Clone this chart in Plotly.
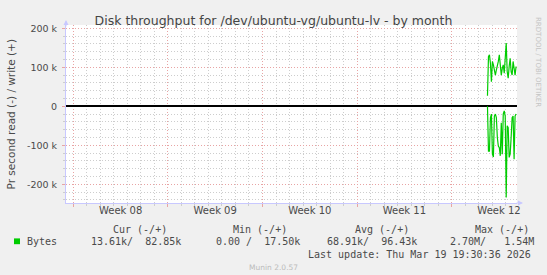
import plotly.graph_objects as go
import pandas as pd

# ---------------- data ----------------
weeks = ["Week 08", "Week 09", "Week 10", "Week 11", "Week 12"]
week_starts = pd.to_datetime(["2026-02-15", "2026-02-22", "2026-03-01", "2026-03-08", "2026-03-15"])
x_start = "2026-02-14 11:03"
x_end = "2026-03-19 19:55"

sample_start = "2026-03-17 15:30"
sample_step = "105min"
write_k = [27, 127, 132, 110, 63, 115, 106, 89, 80, 93, 102, 115, 132, 97, 80,
           97, 106, 85, 123, 162, 89, 72, 102, 123, 89, 80, 115, 93, 80, 102]
read_k = [0, 115, 115, 29, 20, 123, 130, 25, 20, 29, 80, 102, 106, 127, 42,
          123, 20, 12, 25, 234, 50, 55, 131, 123, 80, 29, 25, 136, 25, 20]

y_ticks = [-200000, -100000, 0, 100000, 200000]
y_ticktext = ["-200 k", "-100 k", "0", "100 k", "200 k"]

title = "Disk throughput for /dev/ubuntu-vg/ubuntu-lv - by month"
y_title = "Pr second read (-) / write (+)"
headers = ["Cur (-/+)", "Min (-/+)", "Avg (-/+)", "Max (-/+)"]
series_name = "Bytes"
values = ["13.61k/  82.85k", "0.00 /  17.50k", "68.91k/  96.43k", "2.70M/   1.54M"]
last_update = "Last update: Thu Mar 19 19:30:36 2026"
version = "Munin 2.0.57"
watermark = "RRDTOOL / TOBI OETIKER"

# ---------------- layout geometry (px) ----------------
W, H = 547, 275
L, R, T, B = 66, 517, 25, 203


def xp(px):
    return (px - L) / (R - L)


def yp(py):
    return (B - py) / (B - T)


def nb(s):
    return s.replace(" ", "\u00a0")


times = pd.date_range(sample_start, periods=len(write_k), freq=sample_step)
week_centers = week_starts + pd.Timedelta(hours=84)

GREEN = "#00CC00"
TXT = "#4a4a4a"
MONO = "DejaVu Sans Mono"
SANS = "DejaVu Sans"
MAJ = "#E8A4A4"
MIN = "#CDCDCD"
DASH = "1px,2px"

fig = go.Figure()
fig.add_trace(go.Scatter(x=times, y=[v * 1000 for v in write_k], mode="lines",
                         line=dict(color=GREEN, width=1.2), showlegend=False,
                         hoverinfo="skip"))
fig.add_trace(go.Scatter(x=times, y=[-v * 1000 for v in read_k], mode="lines",
                         line=dict(color=GREEN, width=1.2), showlegend=False,
                         hoverinfo="skip"))
# dummy trace for label axis
fig.add_trace(go.Scatter(x=week_centers, y=[None] * len(weeks), xaxis="x2",
                         showlegend=False, hoverinfo="skip"))

annotations = []
annotations.append(dict(text=y_title, x=xp(10), y=yp(114.5), xref="paper", yref="paper",
                        showarrow=False, textangle=-90, xanchor="center", yanchor="middle",
                        font=dict(family=SANS, size=10.5, color=TXT)))
annotations.append(dict(text=watermark, x=xp(538), y=yp(15), xref="paper", yref="paper",
                        showarrow=False, textangle=90, xanchor="center", yanchor="top",
                        font=dict(family=SANS, size=7, color="#C4C4C4")))
head_x = [111, 231, 353, 473]
for hx, h in zip(head_x, headers):
    annotations.append(dict(text=nb(h), x=xp(hx), y=yp(229.2), xref="paper", yref="paper",
                            showarrow=False, xanchor="left", yanchor="middle",
                            font=dict(family=MONO, size=10, color=TXT)))
annotations.append(dict(text=series_name, x=xp(25), y=yp(241.4), xref="paper", yref="paper",
                        showarrow=False, xanchor="left", yanchor="middle",
                        font=dict(family=MONO, size=10, color=TXT)))
val_x = [89, 213.6, 324.6, 448]
for vx, v in zip(val_x, values):
    annotations.append(dict(text=nb(v), x=xp(vx), y=yp(241.4), xref="paper", yref="paper",
                            showarrow=False, xanchor="left", yanchor="middle",
                            font=dict(family=MONO, size=10, color=TXT)))
annotations.append(dict(text=nb(last_update), x=xp(533), y=yp(254.3), xref="paper", yref="paper",
                        showarrow=False, xanchor="right", yanchor="middle",
                        font=dict(family=MONO, size=10, color=TXT)))
annotations.append(dict(text=version, x=xp(273), y=yp(267.6), xref="paper", yref="paper",
                        showarrow=False, xanchor="center", yanchor="middle",
                        font=dict(family=SANS, size=7.5, color="#BBBBBB")))
annotations.append(dict(text="", x=xp(523), y=yp(203), xref="paper", yref="paper",
                        ax=-8, ay=0, showarrow=True, arrowhead=2, arrowsize=1,
                        arrowwidth=1, arrowcolor="#C8C8FF"))
annotations.append(dict(text="", x=xp(66), y=yp(20), xref="paper", yref="paper",
                        ax=0, ay=8, showarrow=True, arrowhead=2, arrowsize=1,
                        arrowwidth=1, arrowcolor="#C8C8FF"))

shapes = [dict(type="rect", xref="paper", yref="paper", x0=xp(14), x1=xp(20),
               y0=yp(244.2), y1=yp(238.4), fillcolor=GREEN, line=dict(width=0))]

fig.update_layout(
    width=W, height=H,
    margin=dict(l=L, r=W - R, t=T, b=H - B, pad=0),
    paper_bgcolor="#F0F0F0", plot_bgcolor="#FFFFFF",
    title=dict(text=title, x=0.5, xref="container", xanchor="center",
               y=1 - 20.9 / H, yref="container", yanchor="middle",
               font=dict(family=SANS, size=12.5, color="#444444")),
    font=dict(family=SANS, color=TXT),
    xaxis=dict(type="date", range=[x_start, x_end], tickmode="array",
               tickvals=week_starts, showticklabels=False,
               showgrid=True, gridcolor=MAJ, griddash=DASH, gridwidth=1,
               ticks="outside", ticklen=3, tickcolor=MAJ,
               showline=True, linecolor="#C8C8FF", linewidth=1, zeroline=False,
               minor=dict(tickmode="linear", tick0="2026-02-15", dtick=86400000,
                          showgrid=True, gridcolor=MIN, griddash=DASH,
                          ticks="outside", ticklen=2, tickcolor=MIN)),
    xaxis2=dict(type="date", overlaying="x", matches="x", anchor="y", side="bottom",
                tickmode="array", tickvals=week_centers, ticktext=weeks,
                showgrid=False, showline=False, ticks="", zeroline=False,
                tickfont=dict(family=SANS, size=10, color=TXT)),
    yaxis=dict(range=[-248000, 208400], tickmode="array", tickvals=y_ticks,
               ticktext=y_ticktext, tickfont=dict(family=SANS, size=9.5, color=TXT),
               showgrid=True, gridcolor=MAJ, griddash=DASH, gridwidth=1,
               ticks="outside", ticklen=3, tickcolor=MAJ, ticklabelstandoff=3,
               showline=True, linecolor="#C8C8FF", linewidth=1,
               zeroline=True, zerolinecolor="#000000", zerolinewidth=1.5,
               minor=dict(tickmode="linear", tick0=0, dtick=20000, showgrid=True,
                          gridcolor=MIN, griddash=DASH,
                          ticks="outside", ticklen=2, tickcolor=MIN)),
    annotations=annotations,
    shapes=shapes,
    showlegend=False,
)

fig.write_html("out.html")
